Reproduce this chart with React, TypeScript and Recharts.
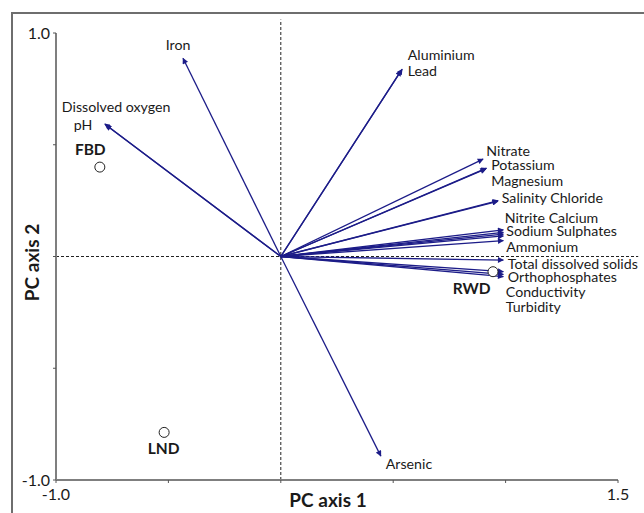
import { ScatterChart, Scatter, XAxis, YAxis, ReferenceLine } from 'recharts';

// loadings (PC1, PC2) of the measured variables
const variables = [
  'Iron', 'Aluminium', 'Lead', 'Dissolved oxygen', 'pH', 'Nitrate', 'Potassium', 'Magnesium',
  'Salinity', 'Chloride', 'Nitrite', 'Calcium', 'Sodium', 'Sulphates', 'Ammonium',
  'Total dissolved solids', 'Orthophosphates', 'Conductivity', 'Turbidity', 'Arsenic',
];
const loadingPc1 = [
  -0.435, 0.54, 0.535, -0.783, -0.778, 0.9, 0.915, 0.912,
  0.967, 0.965, 0.99, 0.99, 0.99, 0.99, 0.99,
  0.99, 0.99, 0.99, 0.99, 0.445,
];
const loadingPc2 = [
  0.887, 0.838, 0.832, 0.593, 0.588, 0.436, 0.395, 0.392,
  0.25, 0.247, 0.119, 0.108, 0.1, 0.092, 0.071,
  -0.016, -0.068, -0.08, -0.09, -0.893,
];

// site scores
const sites = ['FBD', 'LND', 'RWD'];
const sitePc1 = [-0.805, -0.519, 0.944];
const sitePc2 = [0.4, -0.787, -0.068];

const xTicks = [-1, -0.5, 0, 0.5, 1, 1.5];
const yTicks = [-1, -0.5, 0, 0.5, 1];

// where the text labels sit (data units, left edge / middle of text)
const varLabels = [
  { text: 'Iron', x: -0.512, y: 0.946 },
  { text: 'Aluminium', x: 0.565, y: 0.902 },
  { text: 'Lead', x: 0.565, y: 0.83 },
  { text: 'Dissolved oxygen', x: -0.974, y: 0.669 },
  { text: 'pH', x: -0.921, y: 0.588 },
  { text: 'Nitrate', x: 0.914, y: 0.472 },
  { text: 'Potassium', x: 0.936, y: 0.409 },
  { text: 'Magnesium', x: 0.936, y: 0.338 },
  { text: 'Salinity Chloride', x: 0.983, y: 0.262 },
  { text: 'Nitrite Calcium', x: 0.996, y: 0.172 },
  { text: 'Sodium Sulphates', x: 1.003, y: 0.114 },
  { text: 'Ammonium', x: 1.003, y: 0.043 },
  { text: 'Total dissolved solids', x: 1.01, y: -0.034 },
  { text: 'Orthophosphates', x: 1.01, y: -0.092 },
  { text: 'Conductivity', x: 1.001, y: -0.159 },
  { text: 'Turbidity', x: 1.001, y: -0.226 },
  { text: 'Arsenic', x: 0.467, y: -0.928 },
];
const siteLabels = [
  { text: 'FBD', x: -0.916, y: 0.477 },
  { text: 'LND', x: -0.592, y: -0.861 },
  { text: 'RWD', x: 0.765, y: -0.145 },
];

const FONT = 'Lato, "Liberation Sans", sans-serif';
const ARROW = '#1c1c88';

const vectors = variables.map((name, i) => ({
  name,
  data: [{ x: 0, y: 0 }, { x: loadingPc1[i], y: loadingPc2[i] }],
}));
const sitePoints = sites.map((s, i) => ({ name: s, x: sitePc1[i], y: sitePc2[i] }));

const NoDot = () => <g />;

const VarText = (p: any) => (
  <text x={p.cx} y={p.cy} dy="0.35em" fontSize={14.2} fill="#1a1a1a" fontFamily={FONT}>
    {p.payload.text}
  </text>
);

const SiteText = (p: any) => (
  <text x={p.cx} y={p.cy} dy="0.35em" fontSize={15.5} fontWeight="bold" fill="#1a1a1a" fontFamily={FONT}>
    {p.payload.text}
  </text>
);

const SiteDot = (p: any) => <circle cx={p.cx} cy={p.cy} r={5} fill="#fff" stroke="#222" strokeWidth={1} />;

const XTitle = (p: any) => {
  const { x, y, width } = p.viewBox;
  return (
    <text x={x + width / 2 - 9} y={y + 27} textAnchor="middle" fontSize={19} fontWeight="bold" fill="#1a1a1a" fontFamily={FONT}>
      PC axis 1
    </text>
  );
};

const YTitle = (p: any) => {
  const { x, y, height } = p.viewBox;
  const cx = x + 27;
  const cy = y + height / 2 + 6;
  return (
    <text x={cx} y={cy} transform={`rotate(-90 ${cx} ${cy})`} textAnchor="middle" fontSize={19} fontWeight="bold" fill="#1a1a1a" fontFamily={FONT}>
      PC axis 2
    </text>
  );
};

const endLabel = (lo: number, hi: number) => (v: number) => (v === lo || v === hi ? v.toFixed(1) : '');

export default function App() {
  return (
    <div style={{ position: 'absolute', left: 0, top: 0, width: 644, height: 513, background: '#fff', overflow: 'hidden' }}>
      <svg width={0} height={0} style={{ position: 'absolute' }}>
        <defs>
          <marker id="arrowHead" viewBox="0 0 10 10" refX="9" refY="5" markerWidth="7" markerHeight="6" markerUnits="userSpaceOnUse" orient="auto">
            <path d="M0,0 L10,5 L0,10 z" fill={ARROW} />
          </marker>
        </defs>
      </svg>
      <div style={{ position: 'absolute', left: 11, top: 12, width: 700, height: 600, borderTop: '2px solid #6e6e6e', borderLeft: '2px solid #6e6e6e' }} />
      <div style={{ position: 'absolute', left: 0, top: 0 }}>
        <ScatterChart width={644} height={513} margin={{ top: 33, right: 26, bottom: 0, left: 12 }}>
          <XAxis
            type="number"
            dataKey="x"
            domain={[-1, 1.5]}
            ticks={xTicks}
            tickFormatter={endLabel(-1, 1.5)}
            interval={0}
            height={33}
            stroke="#7f7f7f"
            strokeWidth={2}
            tickSize={3}
            tickMargin={6}
            tickLine={{ stroke: '#555', strokeWidth: 1 }}
            tick={{ fontSize: 16, fill: '#1a1a1a', fontFamily: FONT }}
            label={{ content: XTitle }}
          />
          <YAxis
            type="number"
            dataKey="y"
            domain={[-1, 1]}
            ticks={yTicks}
            tickFormatter={endLabel(-1, 1)}
            interval={0}
            width={44}
            stroke="#7f7f7f"
            strokeWidth={2}
            tickSize={3}
            tickMargin={3}
            tickLine={{ stroke: '#555', strokeWidth: 1 }}
            tick={{ fontSize: 16, fill: '#1a1a1a', fontFamily: FONT }}
            label={{ content: YTitle }}
          />
          <ReferenceLine segment={[{ x: 0, y: -1 }, { x: 0, y: 1.06 }]} stroke="#222" strokeDasharray="3 2" ifOverflow="visible" />
          <ReferenceLine segment={[{ x: -1, y: 0 }, { x: 1.59, y: 0 }]} stroke="#222" strokeDasharray="3 2" ifOverflow="visible" />
          {vectors.map((v) => (
            <Scatter
              key={v.name}
              name={v.name}
              data={v.data}
              fill={ARROW}
              line={{ stroke: ARROW, strokeWidth: 1.3, markerEnd: 'url(#arrowHead)' }}
              shape={NoDot}
              isAnimationActive={false}
            />
          ))}
          <Scatter name="sites" data={sitePoints} shape={SiteDot} isAnimationActive={false} />
          <Scatter name="varLabels" data={varLabels} shape={VarText} isAnimationActive={false} />
          <Scatter name="siteLabels" data={siteLabels} shape={SiteText} isAnimationActive={false} />
        </ScatterChart>
      </div>
    </div>
  );
}
